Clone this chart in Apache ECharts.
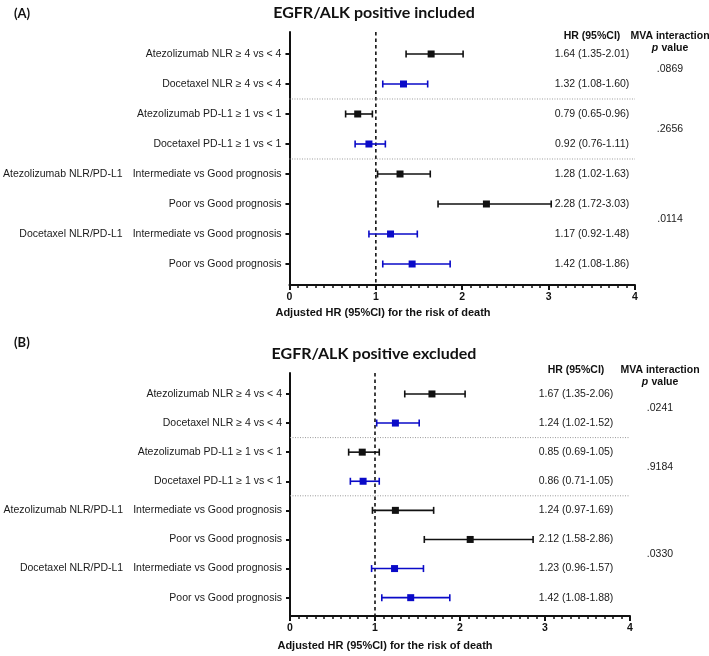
<!DOCTYPE html>
<html>
<head>
<meta charset="utf-8">
<script src="https://cdn.jsdelivr.net/npm/echarts@6/dist/echarts.min.js"></script>
<style>
html,body{margin:0;padding:0;background:#fff;}
#c{width:709px;height:656px;}
</style>
</head>
<body>
<div id="c"></div>
<script>
// ---------- data ----------
const rowLabels = ["Atezolizumab NLR \u2265 4 vs < 4", "Docetaxel NLR \u2265 4 vs < 4",
  "Atezolizumab PD-L1 \u2265 1 vs < 1", "Docetaxel PD-L1 \u2265 1 vs < 1",
  "Intermediate vs Good prognosis", "Poor vs Good prognosis",
  "Intermediate vs Good prognosis", "Poor vs Good prognosis"];
const groupLabels = ["", "", "", "", "Atezolizumab NLR/PD-L1", "", "Docetaxel NLR/PD-L1", ""];
const arms = [0, 1, 0, 1, 0, 0, 1, 1]; // 0 = Atezolizumab, 1 = Docetaxel

const hrA = [1.64, 1.32, 0.79, 0.92, 1.28, 2.28, 1.17, 1.42];
const loA = [1.35, 1.08, 0.65, 0.76, 1.02, 1.72, 0.92, 1.08];
const hiA = [2.01, 1.60, 0.96, 1.11, 1.63, 3.03, 1.48, 1.86];
const pA = [".0869", ".2656", ".0114"];

const hrB = [1.67, 1.24, 0.85, 0.86, 1.24, 2.12, 1.23, 1.42];
const loB = [1.35, 1.02, 0.69, 0.71, 0.97, 1.58, 0.96, 1.08];
const hiB = [2.06, 1.52, 1.05, 1.05, 1.69, 2.86, 1.57, 1.88];
const pB = [".0241", ".9184", ".0330"];

const pRowSpans = [[0, 1], [2, 3], [4, 7]];
const separatorRows = [1.5, 3.5];
const refHR = 1;
const xTickValues = [0, 1, 2, 3, 4];
const titles = ["EGFR/ALK positive included", "EGFR/ALK positive excluded"];
const panelTags = ["(A)", "(B)"];
const xAxisTitle = "Adjusted HR (95%CI) for the risk of death";

// ---------- styling ----------
const armColors = ["#111111", "#0a0ac8"];
const FONT = "'Liberation Sans', Arial, sans-serif";
const TITLEFONT = "Lato, 'Liberation Sans', sans-serif";
const rowIdx = rowLabels.map((_, i) => i);

const panels = [
  {hr: hrA, lo: loA, hi: hiA, p: pA, left: 287, right: 74, top: 32, height: 253, yMin: -0.733, yMax: 7.7,
   tagY: 14, titleY: 13, titleX: 374, headY: 36, hrX: 592, mvaX: 670, axTitleX: 383, axTitleY: 313},
  {hr: hrB, lo: loB, hi: hiB, p: pB, left: 290, right: 79, top: 373, height: 243, yMin: -0.72, yMax: 7.63,
   tagY: 343, titleY: 354, titleX: 374, headY: 370, hrX: 576, mvaX: 660, axTitleX: 385, axTitleY: 646}
];

const chart = echarts.init(document.getElementById('c'), null, {renderer: 'canvas'});

const grids = [], xAxes = [], yAxes = [], series = [];
panels.forEach((pn, k) => {
  grids.push({left: pn.left, right: pn.right, top: pn.top, height: pn.height, containLabel: false});
  xAxes.push({
    type: 'value', gridIndex: k, min: 0, max: 4, interval: 1,
    axisLine: {show: true, onZero: false, lineStyle: {color: '#111', width: 2}},
    axisTick: {show: true, length: 5, inside: false, lineStyle: {color: '#111', width: 2}},
    minorTick: {show: true, splitNumber: 10, length: 3, lineStyle: {color: '#111', width: 1.5}},
    splitLine: {show: false},
    axisLabel: {show: true, margin: 7, color: '#111', fontFamily: FONT, fontSize: 10.5, fontWeight: 'bold',
      formatter: v => xTickValues.indexOf(v) >= 0 ? String(v) : ''}
  });
  yAxes.push({
    type: 'value', gridIndex: k, inverse: true, min: pn.yMin, max: pn.yMax,
    axisLine: {show: true, onZero: false, lineStyle: {color: '#111', width: 2}},
    axisTick: {show: true, length: 4, inside: false, customValues: rowIdx, lineStyle: {color: '#111', width: 2}},
    splitLine: {show: false},
    axisLabel: {
      show: true, margin: 8, customValues: rowIdx, color: '#1a1a1a', fontFamily: FONT, fontSize: 10.5,
      formatter: v => {
        const i = Math.round(v);
        if (groupLabels[i]) return '{g|' + groupLabels[i] + '}{t|' + rowLabels[i] + '}';
        return '{t|' + rowLabels[i] + '}';
      },
      rich: {
        g: {fontFamily: FONT, fontSize: 10.5, color: '#1a1a1a', padding: [0, 10, 0, 0]},
        t: {fontFamily: FONT, fontSize: 10.5, color: '#1a1a1a'}
      }
    }
  });
  // reference line at HR = 1
  series.push({
    type: 'line', xAxisIndex: k, yAxisIndex: k, silent: true, symbol: 'none',
    data: [[refHR, pn.yMin], [refHR, pn.yMax]],
    lineStyle: {color: '#111', width: 1.6, type: [3.5, 3]}, z: 1
  });
  // dotted separators
  separatorRows.forEach(r => {
    series.push({
      type: 'line', xAxisIndex: k, yAxisIndex: k, silent: true, symbol: 'none',
      data: [[0, r], [4, r]],
      lineStyle: {color: '#9a9a9a', width: 1, type: [1, 1.5]}, z: 1
    });
  });
  // estimates and CIs
  series.push({
    type: 'custom', xAxisIndex: k, yAxisIndex: k, z: 5,
    data: pn.hr.map((h, i) => [h, pn.lo[i], pn.hi[i], i, arms[i]]),
    encode: {x: [0, 1, 2], y: 3},
    renderItem: (params, api) => {
      const y = api.value(3);
      const c = api.coord([api.value(0), y]);
      const l = api.coord([api.value(1), y]);
      const h = api.coord([api.value(2), y]);
      const col = armColors[api.value(4)];
      const st = {stroke: col, lineWidth: 1.6};
      const cap = 3.5, sq = 7;
      return {type: 'group', children: [
        {type: 'line', shape: {x1: l[0], y1: l[1], x2: h[0], y2: h[1]}, style: st},
        {type: 'line', shape: {x1: l[0], y1: l[1] - cap, x2: l[0], y2: l[1] + cap}, style: st},
        {type: 'line', shape: {x1: h[0], y1: h[1] - cap, x2: h[0], y2: h[1] + cap}, style: st},
        {type: 'rect', shape: {x: c[0] - sq / 2, y: c[1] - sq / 2, width: sq, height: sq}, style: {fill: col}}
      ]};
    }
  });
});

chart.setOption({
  animation: false,
  backgroundColor: '#ffffff',
  grid: grids, xAxis: xAxes, yAxis: yAxes, series: series
});

// ---------- free text (placed using the library's y scale) ----------
const gfx = [];
function txt(x, y, text, opt) {
  gfx.push({type: 'text', x: x, y: y, silent: true, style: Object.assign({
    text: text, fill: '#1a1a1a', font: '10.5px ' + FONT, textAlign: 'center', textVerticalAlign: 'middle'
  }, opt || {})});
}
panels.forEach((pn, k) => {
  const py = r => chart.convertToPixel({gridIndex: k}, [0, r])[1];
  txt(14, pn.tagY, panelTags[k], {font: 'bold 13px ' + TITLEFONT, fill: '#111', textAlign: 'left'});
  txt(pn.titleX, pn.titleY, titles[k], {font: 'bold 16px ' + TITLEFONT, fill: '#111'});
  txt(pn.hrX, pn.headY, 'HR (95%CI)', {font: 'bold 10.5px ' + FONT, fill: '#111'});
  txt(pn.mvaX, pn.headY, 'MVA interaction', {font: 'bold 10.5px ' + FONT, fill: '#111'});
  gfx.push({type: 'text', x: pn.mvaX, y: pn.headY + 12, silent: true, style: {
    text: '{i|p} {b|value}', textAlign: 'center', textVerticalAlign: 'middle',
    rich: {i: {font: 'italic bold 10.5px ' + FONT, fill: '#111'}, b: {font: 'bold 10.5px ' + FONT, fill: '#111'}}
  }});
  pn.hr.forEach((h, i) => {
    txt(pn.hrX, py(i), h.toFixed(2) + ' (' + pn.lo[i].toFixed(2) + '-' + pn.hi[i].toFixed(2) + ')');
  });
  pn.p.forEach((pv, j) => {
    const s = pRowSpans[j];
    txt(pn.mvaX, (py(s[0]) + py(s[1])) / 2, pv);
  });
  txt(pn.axTitleX, pn.axTitleY, xAxisTitle, {font: 'bold 11px ' + FONT, fill: '#111'});
});
chart.setOption({graphic: {elements: gfx}});
</script>
</body>
</html>
